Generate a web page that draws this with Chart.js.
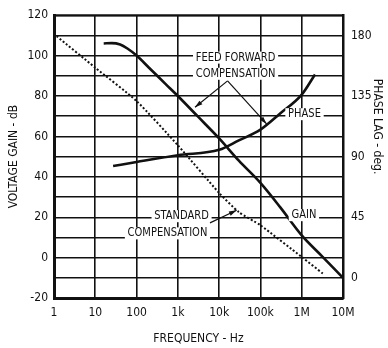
<!DOCTYPE html>
<html>
<head>
<meta charset="utf-8">
<script src="https://cdn.jsdelivr.net/npm/chart.js@4/dist/chart.umd.min.js"></script>
<style>
html, body { margin: 0; padding: 0; background: #fff; }
#wrap { width: 388px; height: 348px; }
</style>
</head>
<body>
<div id="wrap"><canvas id="chart"></canvas></div>
<script>
// axis ticks
var freqTicks = [1, 10, 100, 1e3, 1e4, 1e5, 1e6, 1e7]
var freqLabels = ['1', '10', '100', '1k', '10k', '100k', '1M', '10M']
var gainTicks = [-20, 0, 20, 40, 60, 80, 100, 120]
var phaseTicks = [0, 45, 90, 135, 180]

// feed forward gain (dB)
var gainFreq = [16, 25, 40, 60, 100, 200, 500, 1000, 3000, 10000, 30000, 100000, 300000, 1e6, 3e6, 1e7]
var gainDb = [106, 106.2, 105.5, 103.5, 100, 94, 86, 80, 70, 59, 48, 37, 25, 11, 1, -10]

// phase lag (deg)
var phaseFreq = [27, 100, 1000, 10000, 30000, 100000, 300000, 1e6, 2.1e6]
var phaseDeg = [83, 86, 91, 95, 102, 110, 122, 136, 151]

// standard compensation gain (dB)
var stdFreq = [1.16, 10, 100, 1000, 10000, 30000, 100000, 1e6, 3.3e6]
var stdDb = [109.6, 94, 77.5, 55.6, 32, 22.5, 16, 0.3, -8]

// labels and arrows, in data units (Hz, dB)
var noteText = ['FEED FORWARD', 'COMPENSATION', 'PHASE', 'GAIN', 'STANDARD', 'COMPENSATION']
var noteFreq = [25000, 25000, 1.17e6, 1.13e6, 1230, 560]
var noteDb = [99, 91, 71, 21, 20.5, 12]
var arrowFrom = [[16000, 87.5], [16000, 87.5], [6000, 17.2]]
var arrowTo = [[2600, 74.4], [141000, 66.2], [26500, 23.4]]

var FONT = "'Liberation Sans Narrow', 'DejaVu Sans Condensed', 'Arial Narrow', sans-serif"
var INK = '#111'

function pts(xs, ys) {
    return xs.map(function (x, i) { return { x: x, y: ys[i] } })
}

var notesPlugin = {
    id: 'notes',
    afterDatasetsDraw: function (chart) {
        var ctx = chart.ctx
        var a = chart.chartArea
        var sx = chart.scales.x
        var sy = chart.scales.y
        ctx.save()
        // top edge of the frame
        ctx.strokeStyle = INK
        ctx.lineWidth = 2
        ctx.beginPath()
        ctx.moveTo(a.left, a.top)
        ctx.lineTo(a.right, a.top)
        ctx.stroke()

        ctx.font = '12px ' + FONT
        ctx.textAlign = 'center'
        ctx.textBaseline = 'middle'
        for (var i = 0; i < noteText.length; i++) {
            var x = sx.getPixelForValue(noteFreq[i])
            var y = sy.getPixelForValue(noteDb[i])
            // slightly condensed, like the datasheet lettering
            ctx.save()
            ctx.translate(x, y)
            ctx.scale(0.92, 1)
            var w = ctx.measureText(noteText[i]).width + 6
            ctx.fillStyle = '#fff'
            ctx.fillRect(-w / 2, -6, w, 12)
            ctx.fillStyle = INK
            ctx.fillText(noteText[i], 0, 0)
            ctx.restore()
        }

        ctx.lineWidth = 1.2
        for (var j = 0; j < arrowFrom.length; j++) {
            var x0 = sx.getPixelForValue(arrowFrom[j][0])
            var y0 = sy.getPixelForValue(arrowFrom[j][1])
            var x1 = sx.getPixelForValue(arrowTo[j][0])
            var y1 = sy.getPixelForValue(arrowTo[j][1])
            ctx.beginPath()
            ctx.moveTo(x0, y0)
            ctx.lineTo(x1, y1)
            ctx.stroke()
            var ang = Math.atan2(y1 - y0, x1 - x0)
            ctx.beginPath()
            ctx.moveTo(x1, y1)
            ctx.lineTo(x1 - 8 * Math.cos(ang - 0.3), y1 - 8 * Math.sin(ang - 0.3))
            ctx.lineTo(x1 - 8 * Math.cos(ang + 0.3), y1 - 8 * Math.sin(ang + 0.3))
            ctx.closePath()
            ctx.fillStyle = INK
            ctx.fill()
        }

        // right axis title
        ctx.translate(377, (a.top + a.bottom) / 2 - 30)
        ctx.rotate(Math.PI / 2)
        ctx.font = '12px ' + FONT
        ctx.fillText('PHASE LAG - deg.', 0, 0)
        ctx.restore()
    }
}

var chart = new Chart(document.getElementById('chart').getContext('2d'), {
    type: 'line',
    data: {
        datasets: [
            {
                label: 'Gain',
                data: pts(gainFreq, gainDb),
                borderColor: INK,
                borderWidth: 2.6,
                pointRadius: 0,
                cubicInterpolationMode: 'monotone',
                yAxisID: 'y'
            },
            {
                label: 'Phase',
                data: pts(phaseFreq, phaseDeg),
                borderColor: INK,
                borderWidth: 2.6,
                pointRadius: 0,
                cubicInterpolationMode: 'monotone',
                yAxisID: 'y1'
            },
            {
                label: 'Standard compensation',
                data: pts(stdFreq, stdDb),
                borderColor: INK,
                borderWidth: 2,
                borderDash: [2, 2],
                pointRadius: 0,
                tension: 0.2,
                yAxisID: 'y'
            }
        ]
    },
    options: {
        responsive: true,
        maintainAspectRatio: false,
        animation: false,
        layout: { padding: { top: 12, left: 0, right: 0, bottom: 0 } },
        plugins: { legend: { display: false }, tooltip: { enabled: false } },
        scales: {
            x: {
                type: 'logarithmic',
                min: 1,
                max: 1e7,
                afterBuildTicks: function (s) { s.ticks = freqTicks.map(function (v) { return { value: v } }) },
                afterFit: function (s) { s.height = 50 },
                ticks: {
                    autoSkip: false,
                    maxRotation: 0,
                    color: INK,
                    padding: 8,
                    font: { family: FONT, size: 12 },
                    callback: function (v) { var k = freqTicks.indexOf(v); return k < 0 ? '' : freqLabels[k] }
                },
                grid: { color: INK, lineWidth: 1.6, drawTicks: false },
                border: { color: INK, width: 3 },
                title: {
                    display: true,
                    text: 'FREQUENCY - Hz',
                    color: INK,
                    font: { family: FONT, size: 12 },
                    padding: { top: 0, bottom: 2 }
                }
            },
            y: {
                min: -20,
                max: 120,
                afterFit: function (s) { s.width = 54 },
                ticks: {
                    stepSize: 10,
                    color: INK,
                    padding: 6,
                    font: { family: FONT, size: 12 },
                    callback: function (v) { return gainTicks.indexOf(v) < 0 ? '' : String(v) }
                },
                grid: { color: INK, lineWidth: 1.4, drawTicks: false },
                border: { color: INK, width: 3 },
                title: {
                    display: true,
                    text: 'VOLTAGE GAIN - dB',
                    color: INK,
                    font: { family: FONT, size: 12 },
                    padding: { top: 7, bottom: 0 }
                }
            },
            y1: {
                position: 'right',
                min: -15,
                max: 195,
                afterBuildTicks: function (s) { s.ticks = phaseTicks.map(function (v) { return { value: v } }) },
                afterFit: function (s) { s.width = 45 },
                ticks: {
                    color: INK,
                    padding: 8,
                    font: { family: FONT, size: 12 },
                    callback: function (v) { return String(v) }
                },
                grid: { display: false, drawTicks: false },
                border: { color: INK, width: 2.5 }
            }
        }
    },
    plugins: [notesPlugin]
})
</script>
</body>
</html>
